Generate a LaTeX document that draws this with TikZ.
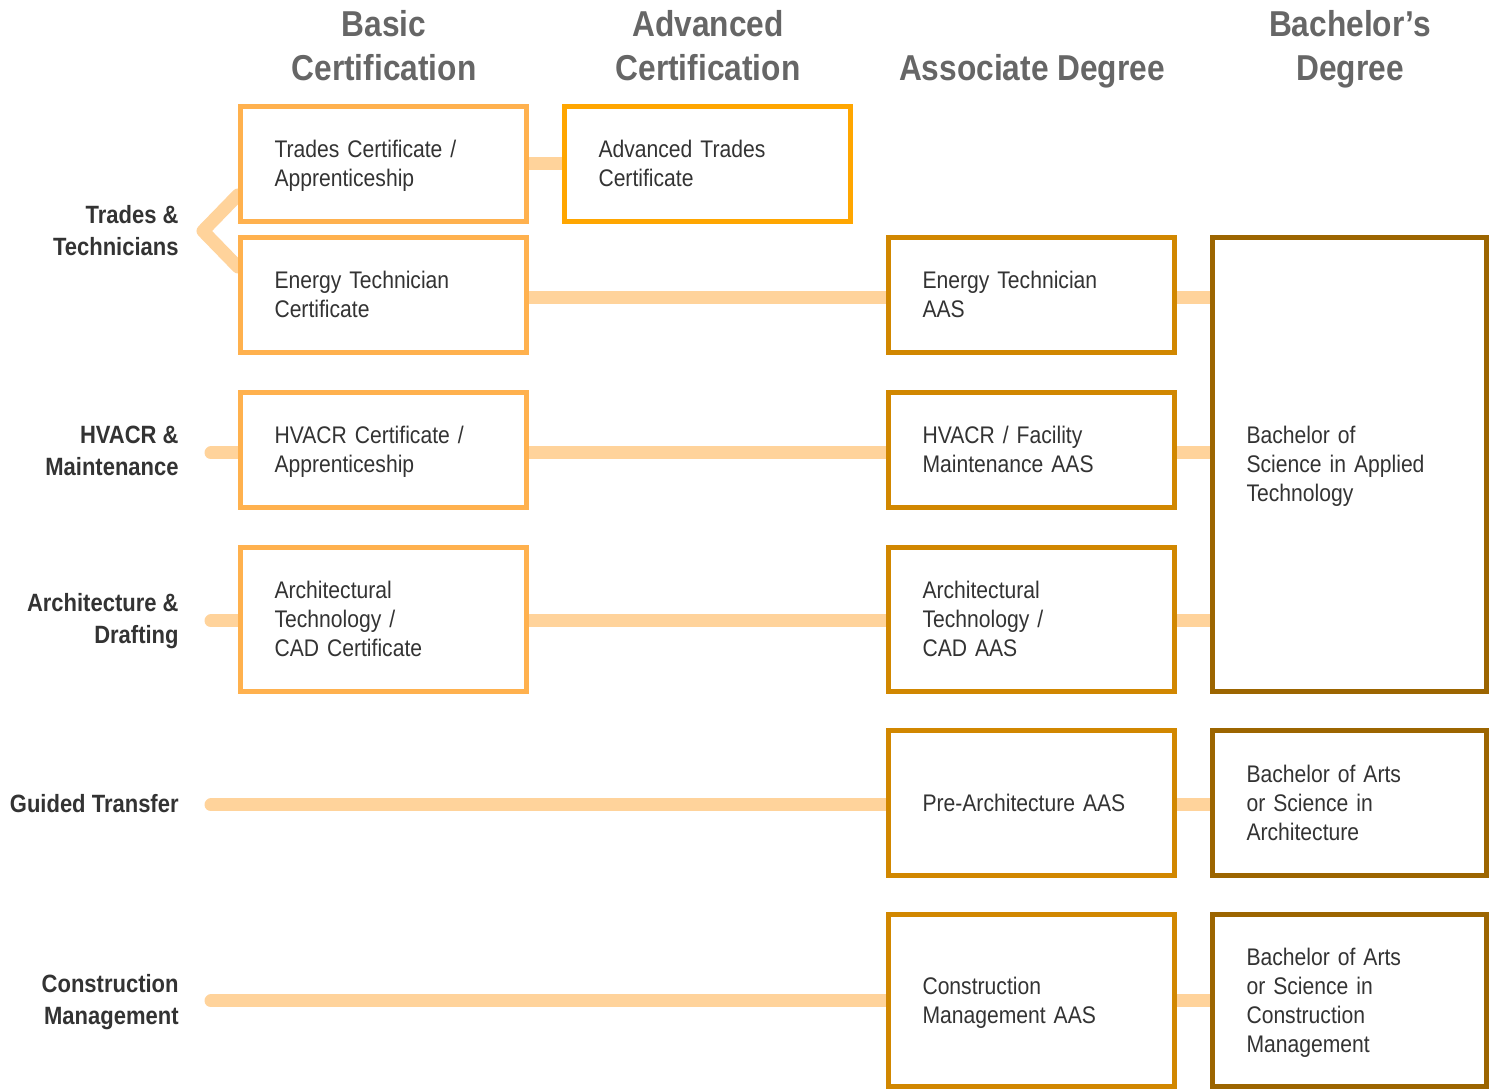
\documentclass[tikz,border=0pt]{standalone}
\usepackage{fontspec}
\setmainfont{Liberation Sans}[FakeStretch=0.88]
\usetikzlibrary{backgrounds}

\definecolor{basicC}{HTML}{FFB14E}
\definecolor{advC}{HTML}{FFA600}
\definecolor{assocC}{HTML}{D18700}
\definecolor{bachC}{HTML}{9C6500}
\definecolor{linkC}{HTML}{FFD39B}
\definecolor{txtC}{HTML}{333333}
\definecolor{headC}{HTML}{666666}

\newcommand{\capstrut}{\rule[-2.5pt]{0pt}{13.5pt}}

\begin{document}
\begin{tikzpicture}[x=0.5pt, y=-0.5pt,
        box/.style={draw, rectangle, line width=2.5pt, fill=white, align=left, inner xsep=17pt, inner ysep=0pt, text=txtC, font=\fontsize{12}{14.5}\selectfont, execute at begin node=\capstrut, execute at end node=\capstrut},
        basicbox/.style={box, draw=basicC, text width=109pt},
        advbox/.style={box, draw=advC, text width=109pt},
        assocbox/.style={box, draw=assocC, text width=109pt},
        bachbox/.style={box, draw=bachC, text width=103pt},
        head/.style={anchor=north, align=center, inner sep=0pt, text=headC, font=\bfseries\fontsize{18}{22}\selectfont},
        track/.style={anchor=east, align=right, inner sep=0pt, text=txtC, font=\bfseries\fontsize{12.5}{16}\selectfont},
        link/.style={draw=linkC, line width=6.5pt, line cap=round, line join=round}
    ]
        \useasboundingbox (0,0) rectangle (1496,1090);

        % Column headers
        \node[head] (hBasic) at (384,10) {Basic\\Certification};
        \node[head] (hAdv) at (708,10) {Advanced\\Certification};
        \node[head] (hAssoc) at (1032,54) {Associate Degree};
        \node[head] (hBach) at (1350,10) {Bachelor’s\\Degree};

        % Tracks
        \node[track] (tTrades) at (179,231) {Trades \&\\Technicians};
        \node[track] (tHvacr) at (179,451) {HVACR \&\\Maintenance};
        \node[track] (tArch) at (179,621) {Architecture \&\\Drafting};
        \node[track] (tGuided) at (179,804) {Guided Transfer};
        \node[track] (tCm) at (179,1002) {Construction\\Management};

        % Basic certification
        \node[basicbox, minimum height=57.5pt] (tradesB) at (383.5,164) {Trades Certificate /\\Apprenticeship};
        \node[basicbox, minimum height=57.5pt] (energyB) at (383.5,295) {Energy Technician\\Certificate};
        \node[basicbox, minimum height=57.5pt] (hvacrB) at (383.5,450) {HVACR Certificate /\\Apprenticeship};
        \node[basicbox, minimum height=72pt] (archB) at (383.5,619.5) {Architectural\\Technology /\\CAD Certificate};

        % Advanced certification
        \node[advbox, minimum height=57.5pt] (tradesAdv) at (707.5,164) {Advanced Trades\\Certificate};

        % Associate degree
        \node[assocbox, minimum height=57.5pt] (energyA) at (1031.5,295) {Energy Technician\\AAS};
        \node[assocbox, minimum height=57.5pt] (hvacrA) at (1031.5,450) {HVACR / Facility\\Maintenance AAS};
        \node[assocbox, minimum height=72pt] (archA) at (1031.5,619.5) {Architectural\\Technology /\\CAD AAS};
        \node[assocbox, minimum height=72.5pt] (preArch) at (1031.5,803) {Pre-Architecture AAS};
        \node[assocbox, minimum height=86pt] (cmA) at (1031.5,1000.5) {Construction\\Management AAS};

        % Bachelor's degree
        \node[bachbox, minimum height=227pt] (bsat) at (1349.5,464.5) {Bachelor of\\Science in Applied\\Technology};
        \node[bachbox, minimum height=72.5pt] (baArch) at (1349.5,803) {Bachelor of Arts\\or Science in\\Architecture};
        \node[bachbox, minimum height=86pt] (baCm) at (1349.5,1000.5) {Bachelor of Arts\\or Science in\\Construction\\Management};

        % Paths
        \coordinate (ttTip) at (203,231);
        \coordinate (etLine) at (0,298);
        \coordinate (hvStub) at (211,453);
        \coordinate (arStub) at (211,621);
        \coordinate (gtStub) at (211,805);
        \coordinate (cmStub) at (211,1001);

        \begin{scope}[on background layer]
            \draw[link] (tradesB.west |- 0,195) -- (ttTip) -- (energyB.west |- 0,267);
            \draw[link] (tradesB.east) -- (tradesAdv.west);

            \draw[link] (energyB.east |- etLine) -- (energyA.west |- etLine);
            \draw[link] (energyA.east |- etLine) -- (bsat.west |- etLine);

            \draw[link] (hvStub) -- (hvacrB.west |- hvStub);
            \draw[link] (hvacrB.east |- hvStub) -- (hvacrA.west |- hvStub);
            \draw[link] (hvacrA.east |- hvStub) -- (bsat.west |- hvStub);

            \draw[link] (arStub) -- (archB.west |- arStub);
            \draw[link] (archB.east |- arStub) -- (archA.west |- arStub);
            \draw[link] (archA.east |- arStub) -- (bsat.west |- arStub);

            \draw[link] (gtStub) -- (preArch.west |- gtStub);
            \draw[link] (preArch.east |- gtStub) -- (baArch.west |- gtStub);

            \draw[link] (cmStub) -- (cmA.west |- cmStub);
            \draw[link] (cmA.east |- cmStub) -- (baCm.west |- cmStub);
        \end{scope}

    \end{tikzpicture}
\end{document}
